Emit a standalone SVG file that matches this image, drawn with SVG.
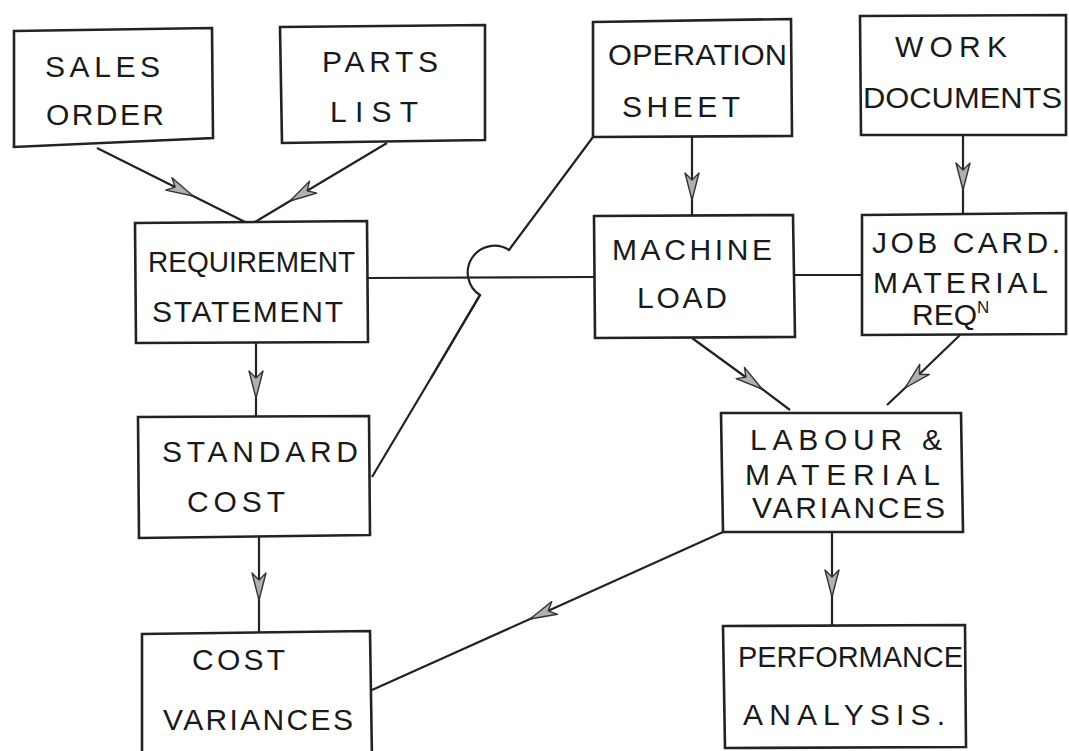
<svg xmlns="http://www.w3.org/2000/svg" width="1069" height="751" viewBox="0 0 1069 751">
<style>
.box{fill:none;stroke:#222;stroke-width:2.6;stroke-linejoin:miter}
.ln{fill:none;stroke:#222;stroke-width:2.2}
.ar{marker-mid:url(#dart)}
text{font-family:"Liberation Sans","DejaVu Sans",sans-serif;font-size:30px;fill:#1a1a1a;font-weight:normal}
</style>
<defs>
<marker id="dart" viewBox="0 0 28 16" refX="28" refY="8" markerWidth="28" markerHeight="16" markerUnits="userSpaceOnUse" orient="auto">
<path d="M1,1 L28,8 L1,15 L8,8 Z" fill="#b0b0b0" stroke="#333" stroke-width="1.4" stroke-linejoin="round"/>
</marker>
</defs>
<rect width="1069" height="751" fill="#fff"/>
<g id="connectors">
<path class="ln ar" d="M97,148 L193,196 L245,222"/>
<path class="ln ar" d="M387,143 L290,201 L255,222"/>
<path class="ln" d="M368,278 L594,277"/>
<path class="ln" d="M795,275 L862,275"/>
<path class="ln" d="M593,137 L509,250 A25,25 0 0 0 480,295 L431,378 L372,477"/>
<path class="ln ar" d="M480,295 L431,378"/>
<path class="ln ar" d="M692,137 L692,200 L692,215"/>
<path class="ln ar" d="M963,135 L963,190 L963,213"/>
<path class="ln ar" d="M256,343 L256,398 L256,417"/>
<path class="ln ar" d="M259,537 L259,600 L259,632"/>
<path class="ln ar" d="M692,338 L762,389 L790,410"/>
<path class="ln ar" d="M960,335 L905,388 L887,405"/>
<path class="ln ar" d="M832,532 L832,597 L832,625"/>
<path class="ln ar" d="M723,532 L530,619 L372,690"/>
</g>
<g id="sales-order">
<path class="box" d="M14,31 L212,28 L213,138 L14,147 Z"/>
<text x="45" y="77" textLength="115" lengthAdjust="spacing">SALES</text>
<text x="46" y="125" textLength="118" lengthAdjust="spacing">ORDER</text>
</g>
<g id="parts-list">
<path class="box" d="M280,27 L485,25 L485,140 L282,143 Z"/>
<text x="322" y="72" textLength="116" lengthAdjust="spacing">PARTS</text>
<text x="330" y="122" textLength="88" lengthAdjust="spacing">LIST</text>
</g>
<g id="requirement-statement">
<path class="box" d="M135,223 L367,221 L368,342 L136,343 Z"/>
<text x="148" y="272" textLength="207" lengthAdjust="spacingAndGlyphs">REQUIREMENT</text>
<text x="152" y="322" textLength="191" lengthAdjust="spacing">STATEMENT</text>
</g>
<g id="standard-cost">
<path class="box" d="M138,417 L369,416 L370,535 L139,538 Z"/>
<text x="162" y="462" textLength="196" lengthAdjust="spacing">STANDARD</text>
<text x="187" y="512" textLength="98" lengthAdjust="spacing">COST</text>
</g>
<g id="cost-variances">
<path class="box" d="M142,760 L142,634 L370,631 L372,760"/>
<text x="192" y="670" textLength="93" lengthAdjust="spacing">COST</text>
<text x="163" y="730" textLength="190" lengthAdjust="spacing">VARIANCES</text>
</g>
<g id="operation-sheet">
<path class="box" d="M593,22 L791,19 L792,136 L593,137 Z"/>
<text x="608" y="65" textLength="179" lengthAdjust="spacingAndGlyphs">OPERATION</text>
<text x="622" y="117" textLength="118" lengthAdjust="spacing">SHEET</text>
</g>
<g id="work-documents">
<path class="box" d="M860,16 L1066,15 L1066,135 L861,135 Z"/>
<text x="895" y="57" textLength="112" lengthAdjust="spacing">WORK</text>
<text x="863" y="108" textLength="199" lengthAdjust="spacingAndGlyphs">DOCUMENTS</text>
</g>
<g id="machine-load">
<path class="box" d="M594,216 L793,215 L795,337 L595,338 Z"/>
<text x="612" y="260" textLength="160" lengthAdjust="spacing">MACHINE</text>
<text x="637" y="308" textLength="90" lengthAdjust="spacing">LOAD</text>
</g>
<g id="job-card">
<path class="box" d="M862,215 L1066,213 L1066,334 L862,335 Z"/>
<text x="872" y="253" textLength="188" lengthAdjust="spacing">JOB CARD.</text>
<text x="873" y="293" textLength="175" lengthAdjust="spacing">MATERIAL</text>
<text x="912" y="325">REQ<tspan dy="-12" font-size="17">N</tspan></text>
</g>
<g id="labour-material-variances">
<path class="box" d="M721,413 L961,413 L963,532 L723,532 Z"/>
<text x="750" y="450" textLength="192" lengthAdjust="spacing">LABOUR &amp;</text>
<text x="745" y="485" textLength="195" lengthAdjust="spacing">MATERIAL</text>
<text x="752" y="518" textLength="193" lengthAdjust="spacing">VARIANCES</text>
</g>
<g id="performance-analysis">
<path class="box" d="M723,626 L965,625 L966,747 L725,748 Z"/>
<text x="738" y="667" textLength="225" lengthAdjust="spacingAndGlyphs">PERFORMANCE</text>
<text x="743" y="725" textLength="202" lengthAdjust="spacing">ANALYSIS.</text>
</g>
</svg>
